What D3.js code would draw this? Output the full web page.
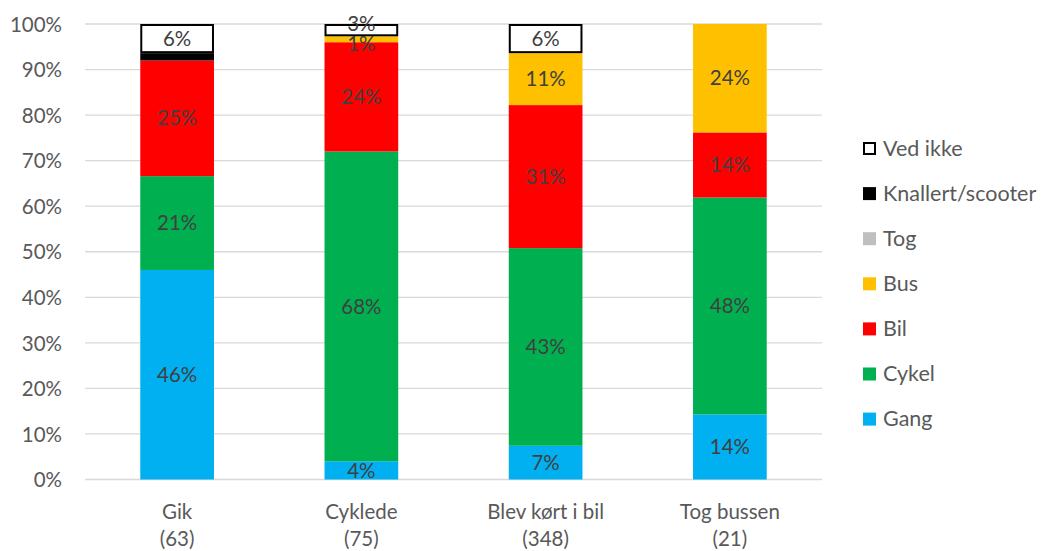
<!DOCTYPE html>
<html><head><meta charset="utf-8">
<script src="https://cdn.jsdelivr.net/npm/d3@7"></script>
<style>body{margin:0;background:#fff}svg{display:block}text{font-family:Lato,"Open Sans",sans-serif;fill:#595959}</style>
</head><body><svg id="c" width="1042" height="551"></svg>
<script>
const categories = ["Gik", "Cyklede", "Blev kørt i bil", "Tog bussen"];
const counts = ["(63)", "(75)", "(348)", "(21)"];
const series = ["Gang", "Cykel", "Bil", "Bus", "Tog", "Knallert/scooter", "Ved ikke"];
const colors = ["#00b0f0", "#00b050", "#ff0000", "#ffc000", "#bfbfbf", "#000000", "#ffffff"];
const gang = [46.0, 4.0, 7.4, 14.3];
const cykel = [20.6, 68.0, 43.4, 47.6];
const bil = [25.4, 24.0, 31.4, 14.3];
const bus = [0, 1.3, 11.4, 23.8];
const tog = [0, 0, 0, 0];
const knallert = [1.6, 0, 0, 0];
const vedIkke = [6.4, 2.7, 6.4, 0];
const yTicks = [0, 10, 20, 30, 40, 50, 60, 70, 80, 90, 100];
const showLabel = [true, true, true, true, true, false, true];

const values = [gang, cykel, bil, bus, tog, knallert, vedIkke];
const rows = categories.map((c, i) => {
  const r = {cat: c};
  series.forEach((s, j) => r[s] = values[j][i]);
  return r;
});
const stacked = d3.stack().keys(series)(rows);

const svg = d3.select("#c");
const x = d3.scaleBand().domain(categories).range([85, 822]).paddingInner(0.6).paddingOuter(0.3);
const y = d3.scaleLinear().domain([0, 100]).range([479.5, 24]);

// gridlines
svg.append("g").selectAll("line").data(yTicks).join("line")
  .attr("x1", 85).attr("x2", 822)
  .attr("y1", d => y(d)).attr("y2", d => y(d))
  .attr("stroke", "#d9d9d9").attr("stroke-width", 1.3);

// y axis labels
const yAxis = d3.axisLeft(y).tickValues(yTicks).tickFormat(d => d + "%").tickSize(0).tickPadding(0);
const ya = svg.append("g").attr("transform", "translate(62,0)").call(yAxis);
ya.select(".domain").remove();
ya.selectAll("text").style("font-size", "20.5px").attr("fill", "#595959").attr("dy", "0.35em");

// bars
const gs = svg.append("g").selectAll("g").data(stacked).join("g");
gs.each(function(layer, j) {
  const g = d3.select(this);
  layer.forEach((d, i) => {
    const v = d[1] - d[0];
    if (v <= 0) return;
    const isVed = series[j] === "Ved ikke";
    g.append("rect")
      .attr("x", x(categories[i]) + (isVed ? 1 : 0))
      .attr("width", x.bandwidth() - (isVed ? 2 : 0))
      .attr("y", y(d[1]) + (isVed ? 1 : 0))
      .attr("height", y(d[0]) - y(d[1]) - (isVed ? 2 : 0))
      .attr("fill", colors[j])
      .attr("stroke", isVed ? "#000" : "none")
      .attr("stroke-width", isVed ? 2 : 0);
  });
});
// labels (tiny segments nudged apart like the original)
gs.each(function(layer, j) {
  if (!showLabel[j]) return;
  const g = d3.select(this);
  layer.forEach((d, i) => {
    const v = d[1] - d[0];
    if (v <= 0) return;
    let nudge = 0;
    if (v < 3) nudge = series[j] === "Ved ikke" ? -6 : 5;
    g.append("text")
      .attr("x", x(categories[i]) + x.bandwidth() / 2)
      .attr("y", y((d[0] + d[1]) / 2) + nudge)
      .attr("dy", "0.35em")
      .attr("text-anchor", "middle")
      .style("font-size", "20.5px")
      .style("fill", "#404040")
      .text(Math.round(v) + "%");
  });
});

// x labels
const xl = svg.append("g");
categories.forEach((c, i) => {
  const cx = x(c) + x.bandwidth() / 2;
  const t = xl.append("text").attr("text-anchor", "middle").style("font-size", "20.5px");
  t.append("tspan").attr("x", cx).attr("y", 519).text(c);
  t.append("tspan").attr("x", cx).attr("y", 546).text(counts[i]);
});

// legend
const legendOrder = series.slice().reverse();
const lg = svg.append("g");
legendOrder.forEach((s, k) => {
  const j = series.indexOf(s);
  const cy = 148 + k * 45.1;
  const ved = s === "Ved ikke";
  lg.append("rect").attr("x", ved ? 864 : 863).attr("y", cy - 6 + (ved ? 1 : 0))
    .attr("width", ved ? 11 : 13).attr("height", ved ? 11 : 13)
    .attr("fill", colors[j]).attr("stroke", ved ? "#000" : "none").attr("stroke-width", 2);
  lg.append("text").attr("x", 883).attr("y", cy).attr("dy", "0.35em").style("font-size", "21.5px").text(s);
});
</script></body></html>
